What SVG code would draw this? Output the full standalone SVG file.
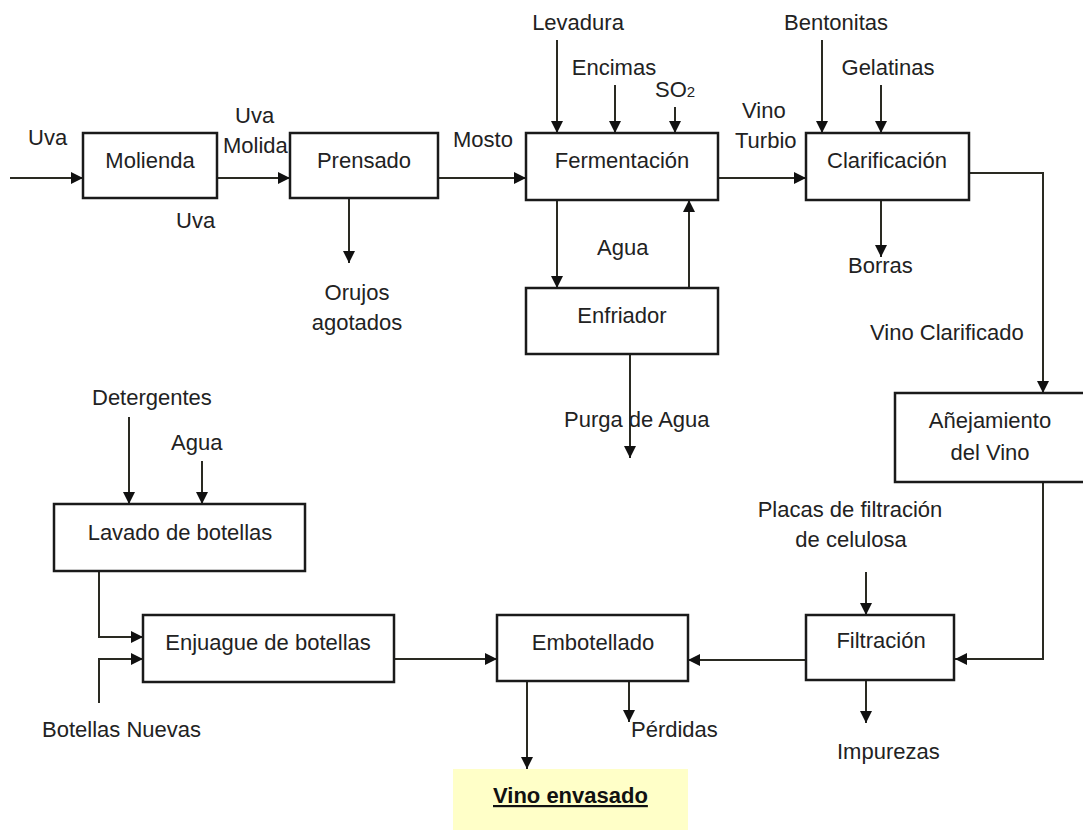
<svg xmlns="http://www.w3.org/2000/svg" width="1083" height="830" viewBox="0 0 1083 830">
<defs>
<style>
.box{fill:#fff;stroke:#1a1a1a;stroke-width:2.5}
.c{fill:none;stroke:#2a2a22;stroke-width:2;marker-end:url(#ah)}
text{font-family:"Liberation Sans",Arial,sans-serif;font-size:22px;fill:#222}
.m{text-anchor:middle}
.b{font-weight:bold;text-decoration:underline;fill:#111}
</style>
<marker id="ah" viewBox="0 0 12 12" refX="12" refY="6" markerWidth="12" markerHeight="12" markerUnits="userSpaceOnUse" orient="auto">
<path d="M0,0 L12,6 L0,12 z" fill="#111"/>
</marker>
</defs>
<rect width="1083" height="830" fill="#fff"/>
<rect x="453" y="769" width="235" height="61" fill="#ffffc8"/>

<g id="connectors">
<path class="c" d="M10,178 H83"/>
<path class="c" d="M217,178 H290"/>
<path class="c" d="M438,178 H526"/>
<path class="c" d="M557,40 V133"/>
<path class="c" d="M615,85 V133"/>
<path class="c" d="M675,107 V133"/>
<path class="c" d="M718,178 H806"/>
<path class="c" d="M822,40 V133"/>
<path class="c" d="M881,85 V133"/>
<path class="c" d="M349,198 V263"/>
<path class="c" d="M557,200 V288"/>
<path class="c" d="M689,288 V200"/>
<path class="c" d="M630,350 V458"/>
<path class="c" d="M881,198 V257"/>
<path class="c" d="M969,173 H1043 V393"/>
<path class="c" d="M1043,482 V659 H955"/>
<path class="c" d="M866,572 V615"/>
<path class="c" d="M866,680 V723"/>
<path class="c" d="M806,660 H688"/>
<path class="c" d="M394,659 H497"/>
<path class="c" d="M527,681 V769"/>
<path class="c" d="M629,681 V722"/>
<path class="c" d="M129,417 V504"/>
<path class="c" d="M202,461 V504"/>
<path class="c" d="M99,571 V637 H143"/>
<path class="c" d="M99,703 V659 H143"/>
</g>

<g id="molienda"><rect class="box" x="83" y="133" width="134" height="65"/><text class="m" x="150" y="168">Molienda</text></g>
<g id="prensado"><rect class="box" x="290" y="133" width="148" height="65"/><text class="m" x="364" y="168">Prensado</text></g>
<g id="fermentacion"><rect class="box" x="526" y="133" width="192" height="67"/><text class="m" x="622" y="168">Fermentación</text></g>
<g id="clarificacion"><rect class="box" x="806" y="133" width="163" height="67"/><text class="m" x="887" y="168">Clarificación</text></g>
<g id="enfriador"><rect class="box" x="526" y="288" width="192" height="66"/><text class="m" x="622" y="323">Enfriador</text></g>
<g id="anejamiento"><rect class="box" x="895" y="393" width="200" height="89"/><text class="m" x="990" y="428">Añejamiento</text><text class="m" x="990" y="460">del Vino</text></g>
<g id="filtracion"><rect class="box" x="806" y="615" width="148" height="65"/><text class="m" x="881" y="648">Filtración</text></g>
<g id="embotellado"><rect class="box" x="497" y="615" width="191" height="66"/><text class="m" x="593" y="650">Embotellado</text></g>
<g id="enjuague"><rect class="box" x="143" y="615" width="251" height="67"/><text class="m" x="268" y="650">Enjuague de botellas</text></g>
<g id="lavado"><rect class="box" x="54" y="504" width="251" height="67"/><text class="m" x="180" y="540">Lavado de botellas</text></g>

<g id="labels">
<text x="28" y="145">Uva</text>
<text x="235" y="123">Uva</text>
<text x="223" y="153">Molida</text>
<text x="176" y="228">Uva</text>
<text class="m" x="357" y="300">Orujos</text>
<text class="m" x="357" y="330">agotados</text>
<text x="453" y="147">Mosto</text>
<text class="m" x="578" y="30">Levadura</text>
<text class="m" x="614" y="75">Encimas</text>
<text x="655" y="97">SO<tspan font-size="15">2</tspan></text>
<text x="742" y="118">Vino</text>
<text x="735" y="148">Turbio</text>
<text class="m" x="836" y="30">Bentonitas</text>
<text class="m" x="888" y="75">Gelatinas</text>
<text x="848" y="273">Borras</text>
<text x="597" y="255">Agua</text>
<text x="564" y="427">Purga de Agua</text>
<text x="870" y="340">Vino Clarificado</text>
<text class="m" x="850" y="517">Placas de filtración</text>
<text class="m" x="851" y="547">de celulosa</text>
<text x="837" y="759">Impurezas</text>
<text x="631" y="737">Pérdidas</text>
<text x="92" y="405">Detergentes</text>
<text x="171" y="450">Agua</text>
<text x="42" y="737">Botellas Nuevas</text>
<text class="b" x="493" y="803">Vino envasado</text>
</g>
</svg>
